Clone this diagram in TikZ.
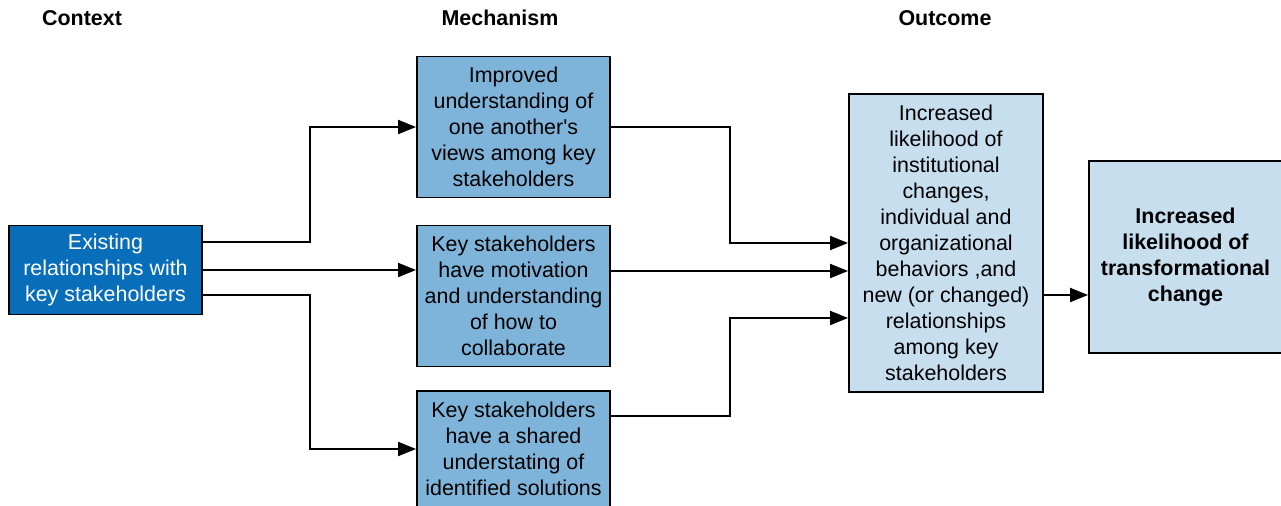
\documentclass[tikz,border=0pt]{standalone}
\usepackage{fontspec}
\setmainfont{Liberation Sans}
\usepackage{xcolor}
\definecolor{ctxblue}{RGB}{8,110,186}
\definecolor{mechblue}{RGB}{127,180,218}
\definecolor{outblue}{RGB}{198,222,238}
\usetikzlibrary{positioning,arrows.meta}
\tikzstyle{box} = [
    rectangle, align=center,
    minimum width=3.86cm,
    line width=1.1pt, draw=black,
    font=\fontsize{12.2}{14.8}\selectfont,
    inner sep=2pt,
]
\tikzstyle{context} = [
    box,
    fill=ctxblue,
    text=white,
    minimum height=1.78cm,
]
\tikzstyle{mechanism} = [
    box,
    fill=mechblue,
    minimum height=2.82cm,
]
\tikzstyle{outcome} = [
    box,
    fill=outblue,
    minimum width=3.88cm,
    minimum height=5.96cm,
]
\tikzstyle{result} = [
    box,
    fill=outblue,
    font=\bfseries\fontsize{12.2}{14.8}\selectfont,
    minimum height=3.84cm,
]
\tikzstyle{heading} = [font=\bfseries\fontsize{12.2}{14.8}\selectfont]
\tikzstyle{arrow} = [-{Triangle[length=0.36cm,width=0.28cm]}, line width=1.1pt]

\begin{document}
\begin{tikzpicture}[x=0.02cm, y=-0.02cm]
    \useasboundingbox (0,0) rectangle (1281,506);

    % headings
    \node[heading] (hctx) at (82, 18) {Context};
    \node[heading] (hmech) at (500, 18) {Mechanism};
    \node[heading] (hout) at (945, 18) {Outcome};

    % boxes
    \node (ctx) at (105.5, 270) [context] {Existing\\relationships with\\key stakeholders};
    \node (mech1) at (513.5, 127) [mechanism] {Improved\\understanding of\\one another\textquotesingle s\\views among key\\stakeholders};
    \node (mech2) at (513.5, 296) [mechanism] {Key stakeholders\\have motivation\\and understanding\\of how to\\collaborate};
    \node (mech3) at (513.5, 449) [mechanism, minimum height=2.32cm] {Key stakeholders\\have a shared\\understating of\\identified solutions};
    \node (out) at (946, 243) [outcome] {Increased\\likelihood of\\institutional\\changes,\\individual and\\organizational\\behaviors ,and\\new (or changed)\\relationships\\among key\\stakeholders};
    \node (res) at (1185.5, 257) [result] {Increased\\likelihood of\\transformational\\change};

    % arrows
    \draw [arrow] ([yshift=0.56cm]ctx.east) -- ++(107,0) |- (mech1.west);
    \draw [arrow] (ctx.east) -- (ctx.east -| mech2.west);
    \draw [arrow] ([yshift=-0.5cm]ctx.east) -- ++(107,0) |- (mech3.west);

    \draw [arrow] (mech1.east) -- ++(119,0) |- (out.west);
    \draw [arrow] ([yshift=0.5cm]mech2.east) -- ([yshift=0.5cm]mech2.east -| out.west);
    \draw [arrow] ([yshift=0.66cm]mech3.east) -- ++(119,0) |- ([yshift=-1.5cm]out.west);

    \draw [arrow] ([yshift=-1.04cm]out.east) -- ([yshift=-1.04cm]out.east -| res.west);
\end{tikzpicture}
\end{document}
